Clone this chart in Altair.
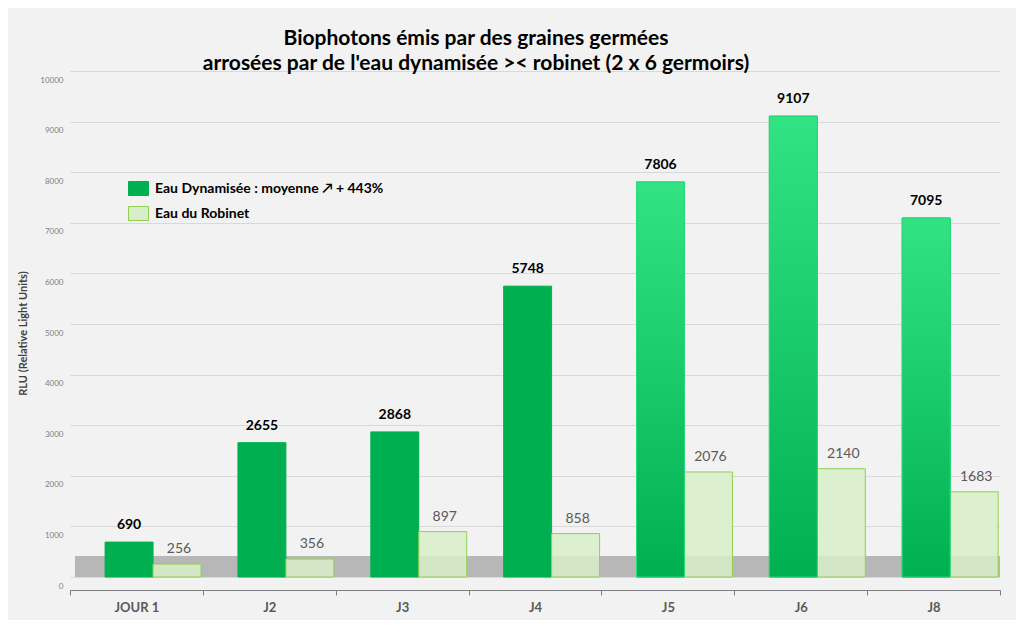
import altair as alt
import pandas as pd

days = ["JOUR 1", "J2", "J3", "J4", "J5", "J6", "J8"]
dynamisee = [690, 2655, 2868, 5748, 7806, 9107, 7095]
robinet = [256, 356, 897, 858, 2076, 2140, 1683]
gradient_days = ["J5", "J6", "J8"]

DYN = "Eau Dynamisée : moyenne \u2197 + 443%"
ROB = "Eau du Robinet"
series = [DYN, ROB]

W, H = 930, 506
FONT = "Lato"

df = pd.concat(
    [
        pd.DataFrame({"day": days, "series": DYN, "value": dynamisee}),
        pd.DataFrame({"day": days, "series": ROB, "value": robinet}),
    ],
    ignore_index=True,
)

x = alt.X(
    "day:N",
    sort=days,
    title=None,
    scale=alt.Scale(paddingInner=0, paddingOuter=0),
    axis=alt.Axis(
        labelAngle=0,
        tickBand="extent",
        domainColor="#7f7f7f",
        tickColor="#7f7f7f",
        tickSize=5,
        labelFont=FONT,
        labelFontSize=13,
        labelFontWeight="bold",
        labelColor="#595959",
        labelPadding=6,
        offset=13,
    ),
)
# bars sit towards the right of each day's band, as in the 3D original
xoff = alt.XOffset(
    "series:N",
    scale=alt.Scale(domain=series, paddingInner=0, paddingOuter=0.385, align=0.95),
)
y = alt.Y(
    "value:Q",
    title="RLU (Relative Light Units)",
    scale=alt.Scale(domain=[0, 10000]),
    axis=alt.Axis(
        values=list(range(0, 10001, 1000)),
        format="d",
        domain=False,
        ticks=False,
        labelFont=FONT,
        labelFontSize=8,
        labelColor="#7f7f7f",
        labelPadding=7,
        labelOffset=9,
        gridColor="#d9d9d9",
        titleFont=FONT,
        titleFontSize=11,
        titleFontWeight="bold",
        titleColor="#404040",
        titlePadding=11,
        titleY=262,
    ),
)

base = alt.Chart(df)

floor = base.mark_rect(color="#b7b7b7").encode(
    x=alt.value(5), x2=alt.value(W), y=alt.datum(0), y2=alt.datum(400)
)

bars = base.mark_bar(strokeWidth=1).encode(
    x=x,
    xOffset=xoff,
    y=y,
    fill=alt.Fill(
        "series:N",
        scale=alt.Scale(domain=series, range=["#00b050", "#d8eec8"]),
        title=None,
    ),
    stroke=alt.Stroke(
        "series:N",
        scale=alt.Scale(domain=series, range=["#00b050", "#92d050"]),
        title=None,
    ),
    fillOpacity=alt.condition(
        alt.datum.series == ROB, alt.value(0.85), alt.value(1)
    ),
)

grad = alt.Gradient(
    gradient="linear",
    stops=[
        alt.GradientStop(color="#00b050", offset=0),
        alt.GradientStop(color="#32e384", offset=1),
    ],
    x1=0, x2=0, y1=1, y2=0,
)
shine = (
    base.transform_filter(alt.datum.series == DYN)
    .transform_filter(alt.FieldOneOfPredicate(field="day", oneOf=gradient_days))
    .mark_bar(fill=grad, stroke="#2bd97a", strokeWidth=1)
    .encode(x=x, xOffset=xoff, y=y)
)

dyn_labels = (
    base.transform_filter(alt.datum.series == DYN)
    .mark_text(font=FONT, fontSize=14, fontWeight="bold", color="black", dy=-17)
    .encode(x=x, xOffset=xoff, y=y, text="value:Q")
)
rob_labels = (
    base.transform_filter(alt.datum.series == ROB)
    .mark_text(font=FONT, fontSize=14, color="#595959", dy=-15, dx=2)
    .encode(x=x, xOffset=xoff, y=y, text="value:Q")
)

chart = (
    alt.layer(floor, bars, shine, dyn_labels, rob_labels)
    .properties(
        width=W,
        height=H,
        autosize=alt.AutoSizeParams(type="none"),
        padding={"left": 62, "top": 63, "right": 16, "bottom": 43},
        background="#f2f2f2",
        title=alt.TitleParams(
            text=[
                "Biophotons émis par des graines germées",
                "arrosées par de l'eau dynamisée >< robinet (2 x 6 germoirs)",
            ],
            font=FONT,
            fontSize=21,
            fontWeight="bold",
            color="black",
            anchor="middle",
            dx=-59,
            dy=3,
            offset=0,
            lineHeight=25,
        ),
    )
    .configure_view(stroke=None)
    .configure_axisY(grid=True)
    .configure_axisX(grid=False)
    .configure_legend(
        orient="none",
        legendX=58,
        legendY=107,
        labelFont=FONT,
        labelFontSize=14,
        labelFontWeight="bold",
        labelColor="black",
        labelLimit=0,
        symbolType="M-1,-0.7L1,-0.7L1,0.7L-1,0.7Z",
        symbolSize=400,
        symbolStrokeWidth=1,
        rowPadding=5,
        labelOffset=6,
    )
)

chart.save("out.html", embed_options={"renderer": "svg", "actions": False})
